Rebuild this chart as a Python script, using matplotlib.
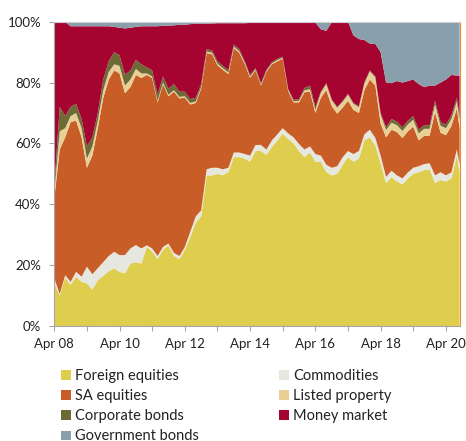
import pandas as pd
import matplotlib
matplotlib.use('Agg')
import matplotlib.pyplot as plt
from matplotlib.patches import Patch

plt.rcParams['font.family'] = ['Lato', 'DejaVu Sans']

# sampled every 2 months from Apr 2008, last point Sep 2020
dates = pd.date_range('2008-04-01', periods=75, freq='2MS').append(pd.DatetimeIndex(['2020-09-01']))

foreign_eq = [14, 10, 16, 13.5, 16.2, 14.5, 14, 12, 15, 16.5, 18, 18.9, 17.8, 17.3, 20.5, 21,
              20.5, 26, 24.5, 22, 25, 26.6, 23, 22, 25, 29.3, 34, 36, 49.5, 49.5, 50, 49.5,
              50.6, 55.5, 55.5, 55, 54, 57.5, 57.5, 56.2, 58.8, 61, 63.2, 61.5, 60, 57.5, 55.5, 57,
              54, 53.9, 50.6, 49.5, 50, 53, 55.5, 54, 55, 61, 62, 59.3, 53.5, 47, 48.9, 47.5,
              46.5, 48.5, 50, 50.5, 51.2, 51.5, 47, 48, 47.5, 48.5, 56, 50.5]
commodities = [1.7, 0.5, 0.7, 1, 1.6, 1.7, 5.5, 5, 4, 4.5, 5, 5.5, 5.5, 6, 5, 5.6,
               5, 0.5, 1, 1, 1, 0.5, 1, 1, 1, 1.7, 2, 2, 2, 2.5, 2, 2,
               1.4, 1.5, 1.5, 1.5, 2, 2, 2, 1.8, 2.2, 2, 1.8, 1.8, 2, 2.3, 2.5, 2,
               2.5, 2.1, 2.4, 2.5, 2.5, 2.5, 2, 2.5, 2.5, 2, 2.5, 2.5, 2.5, 2, 2.1, 2,
               2, 2, 2, 2, 2, 2, 2.5, 2.5, 2, 2, 2, 2.5]
sa_eq = [26.3, 47.5, 45.3, 52.5, 49.7, 45.8, 32.5, 39, 46, 54, 58, 59.6, 59.7, 53.2, 53, 55.9,
         56, 56, 56, 50.5, 53.5, 48.4, 53, 51.8, 49, 41.8, 37.3, 40, 38.2, 37.3, 33.7, 32.7,
         30.8, 34.3, 32.8, 29.5, 25.6, 24.5, 19.5, 25.5, 25, 24, 22.8, 13.9, 11.5, 13.7, 18.8, 18,
         13.5, 19, 24.5, 20.3, 17.3, 16.3, 16.5, 14.5, 12.5, 14.5, 16.5, 17.2, 10.5, 13, 13.5, 14.2,
         13.3, 13.5, 13.5, 8.5, 9.3, 9, 20.8, 13, 13.2, 15.2, 13.5, 12]
listed_prop = [2, 6, 3, 2, 2.5, 3, 3, 3, 2.5, 2.5, 2.5, 2, 2.5, 2.5, 2.5, 2,
               1.5, 0.5, 0.5, 0.5, 0.5, 0.5, 0.5, 0.5, 0.5, 0.5, 0.5, 0.5, 0.5, 0.5, 0.5, 0.5,
               0.5, 0.5, 0.5, 0.4, 0.4, 0.3, 0.3, 0.3, 0.3, 0.4, 0.3, 0.4, 0.4, 0.5, 0.7, 0.8,
               1, 1.7, 2, 1.9, 1.9, 1.9, 2, 2, 1.9, 2.2, 2.7, 2.7, 3, 2.4, 2.3, 2.3,
               2.3, 2.3, 2.3, 2.3, 2.3, 2.3, 2.5, 2.3, 2.3, 2.3, 2.3, 2.5]
corp_bonds = [2, 8, 4, 3, 3, 3, 4, 3, 2.5, 3.5, 3.5, 4, 3.5, 3.5, 3, 3,
              3, 2, 2, 2, 2, 2, 2, 1.7, 1.5, 1.3, 1.2, 1, 0.8, 0.7, 0.8, 0.8,
              0.7, 0.7, 0.7, 0.6, 0.5, 0.5, 0.5, 0.4, 0.4, 0.4, 0.4, 0.4, 0.4, 0.6, 0.7, 1.2,
              1, 0.3, 0.3, 0.3, 0.3, 0.3, 0.3, 0.3, 0.3, 0.3, 0.3, 0.3, 0.5, 1, 1.2, 1.2,
              1.2, 1.2, 1.2, 1.2, 1.2, 1.2, 1.2, 1.2, 1.2, 1.2, 1.2, 1.5]
money_market = [54, 28, 31, 26.5, 25.5, 30.5, 39.5, 36.5, 28.5, 17.5, 11.5, 8.3, 9, 15.3, 14, 10.8,
                12.5, 13.5, 14.5, 22.5, 16.7, 20.7, 19.3, 22, 22, 24.6, 24.3, 19.8, 8.4, 8.9, 12.5, 14,
                15.5, 7, 8.5, 12.5, 17.1, 14.8, 19.8, 15.4, 12.9, 11.8, 11.1, 21.6, 25.3, 25, 21.4, 20.6,
                27.7, 20.5, 17.2, 25.3, 28, 26, 23.7, 22.2, 22.1, 14, 8.8, 10.7, 20, 14.6, 11.8, 13.3,
                14.7, 13, 12, 15, 12.5, 13, 5, 13, 14.8, 13.3, 7.3, 13.3]
gov_bonds = [0, 0, 0, 1.5, 1.5, 1.5, 1.5, 1.5, 1.5, 1.5, 1.5, 1.7, 2, 2.2, 2, 1.7,
             1.5, 1.5, 1.5, 1.5, 1.3, 1.3, 1.2, 1, 1, 0.8, 0.7, 0.7, 0.6, 0.6, 0.5, 0.5,
             0.5, 0.5, 0.5, 0.5, 0.4, 0.4, 0.4, 0.4, 0.4, 0.4, 0.4, 0.4, 0.4, 0.4, 0.4, 0.4,
             0.3, 2.5, 3, 0.2, 0, 0, 0, 4.5, 5.7, 6, 7.2, 7.3, 10, 20, 20.2, 19.5,
             20, 19.5, 19, 20.5, 21.5, 21, 21, 20, 19, 17.5, 17.7, 17.7]

labels = ['Foreign equities', 'Commodities', 'SA equities', 'Listed property',
          'Corporate bonds', 'Money market', 'Government bonds']
colors = ['#DFCE4E', '#E6E8DF', '#C95D27', '#E8CF96', '#6E6A36', '#A50430', '#8A9FAC']

fig = plt.figure(figsize=(4.66, 4.41), dpi=100)
ax = fig.add_axes([0.1165, 0.2608, 0.8698, 0.690])

ax.stackplot(dates, foreign_eq, commodities, sa_eq, listed_prop, corp_bonds,
             money_market, gov_bonds, colors=colors, linewidth=0)

ax.set_xlim(dates[0], dates[-1])
ax.set_ylim(0, 100)
ax.set_yticks(range(0, 101, 20))
ax.set_yticklabels([f'{v}%' for v in range(0, 101, 20)])

xt = pd.date_range('2008-04-01', '2020-04-01', freq='12MS')
ax.set_xticks(xt)
ax.set_xticklabels([d.strftime('Apr %y') if d.year % 2 == 0 else '' for d in xt])

ax.tick_params(axis='both', labelsize=9.5, color='#A6A6A6', length=3.5, labelcolor='#222222')
ax.tick_params(axis='y', pad=6)
ax.tick_params(axis='x', pad=5.5)
for s in ['left', 'bottom']:
    ax.spines[s].set_color('#A6A6A6')
ax.spines['top'].set_color('#CFCFCF')
ax.spines['right'].set_color('#EE8A2E')

handles = [Patch(facecolor=c, edgecolor='none') for c in colors]
order1 = [0, 2, 4, 6]
order2 = [1, 3, 5]
kw = dict(loc='upper left', frameon=False, fontsize=10.5, borderpad=0, borderaxespad=0,
          handlelength=0.65, handleheight=0.65, handletextpad=0.3, labelspacing=0.42,
          labelcolor='#222222')
fig.legend([handles[i] for i in order1], [labels[i] for i in order1],
           bbox_to_anchor=(0.131, 0.163), **kw)
fig.legend([handles[i] for i in order2], [labels[i] for i in order2],
           bbox_to_anchor=(0.599, 0.163), **kw)

fig.savefig('out.png', dpi=100)
